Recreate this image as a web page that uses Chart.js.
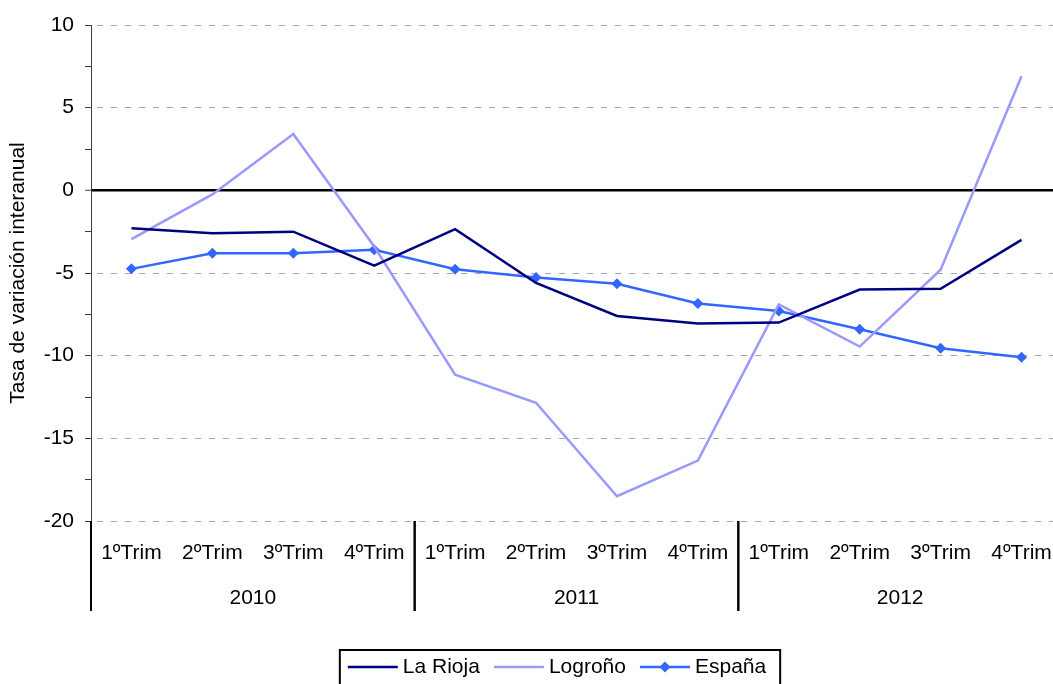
<!DOCTYPE html>
<html>
<head>
<meta charset="utf-8">
<script src="https://cdn.jsdelivr.net/npm/chart.js@4/dist/chart.umd.min.js"></script>
<style>
  html, body { margin: 0; padding: 0; background: #fff; overflow: hidden; }
  #wrap { width: 1120px; height: 684px; position: relative; }
</style>
</head>
<body>
<div id="wrap"><canvas id="chart"></canvas></div>
<script>
const quarters = ["1ºTrim", "2ºTrim", "3ºTrim", "4ºTrim",
                  "1ºTrim", "2ºTrim", "3ºTrim", "4ºTrim",
                  "1ºTrim", "2ºTrim", "3ºTrim", "4ºTrim"];
const years = ["2010", "2011", "2012"];
const laRioja = [-2.3, -2.6, -2.5, -4.55, -2.35, -5.6, -7.6, -8.05, -8.0, -6.0, -5.95, -3.0];
const logrono = [-2.95, -0.25, 3.4, -3.4, -11.15, -12.85, -18.5, -16.35, -6.9, -9.45, -4.8, 6.9];
const espana = [-4.75, -3.8, -3.8, -3.6, -4.77, -5.27, -5.65, -6.85, -7.3, -8.4, -9.55, -10.1];

const FONT = '"Liberation Sans", Arial, Helvetica, sans-serif';
const FS = 21;
const W = 1120;

// year labels and group separators under the category axis
const yearAxis = {
  id: "yearAxis",
  afterDraw(chart) {
    const ctx = chart.ctx;
    const x = chart.scales.x;
    const bottom = chart.chartArea.bottom;
    const half = (x.getPixelForTick(1) - x.getPixelForTick(0)) / 2;
    ctx.save();
    ctx.strokeStyle = "#000";
    ctx.lineWidth = 2;
    ctx.fillStyle = "#000";
    ctx.font = FS + "px " + FONT;
    ctx.textAlign = "center";
    ctx.textBaseline = "middle";
    years.forEach((y, g) => {
      const a = x.getPixelForTick(g * 4) - half;
      const b = x.getPixelForTick(g * 4 + 3) + half;
      ctx.beginPath();
      ctx.moveTo(a, bottom);
      ctx.lineTo(a, bottom + 90);
      ctx.moveTo(b, bottom);
      ctx.lineTo(b, bottom + 90);
      ctx.stroke();
      ctx.fillText(y, (a + b) / 2, bottom + 77);
    });
    ctx.restore();
  }
};

// boxed legend with line samples
const boxLegend = {
  id: "boxLegend",
  afterDraw(chart) {
    const ctx = chart.ctx;
    const sets = chart.data.datasets;
    ctx.save();
    ctx.font = FS + "px " + FONT;
    const widths = sets.map(d => ctx.measureText(d.label).width);
    let w = 8;
    widths.forEach(tw => { w += 50 + 5 + tw + 14; });
    const left = 560 - w / 2;
    const top = 650;
    const cy = 667;
    ctx.strokeStyle = "#000";
    ctx.lineWidth = 2;
    ctx.strokeRect(left, top, w, 44);
    let cx = left + 8;
    sets.forEach((d, i) => {
      ctx.strokeStyle = d.borderColor;
      ctx.lineWidth = 2.5;
      ctx.beginPath();
      ctx.moveTo(cx, cy);
      ctx.lineTo(cx + 50, cy);
      ctx.stroke();
      if (d.pointRadius > 0) {
        ctx.fillStyle = d.borderColor;
        ctx.beginPath();
        ctx.moveTo(cx + 19.5, cy);
        ctx.lineTo(cx + 25, cy - 5.5);
        ctx.lineTo(cx + 30.5, cy);
        ctx.lineTo(cx + 25, cy + 5.5);
        ctx.closePath();
        ctx.fill();
      }
      ctx.fillStyle = "#000";
      ctx.textAlign = "left";
      ctx.textBaseline = "middle";
      ctx.fillText(d.label, cx + 55, cy);
      cx += 50 + 5 + widths[i] + 14;
    });
    ctx.restore();
  }
};

new Chart(document.getElementById("chart"), {
  type: "line",
  data: {
    labels: quarters,
    datasets: [
      { label: "La Rioja", data: laRioja, borderColor: "#000080", backgroundColor: "#000080",
        borderWidth: 2.5, pointRadius: 0, tension: 0 },
      { label: "Logroño", data: logrono, borderColor: "#9999FF", backgroundColor: "#9999FF",
        borderWidth: 2.5, pointRadius: 0, tension: 0 },
      { label: "España", data: espana, borderColor: "#3366FF", backgroundColor: "#3366FF",
        borderWidth: 2.5, pointRadius: 5.5, pointStyle: "rectRot", pointBorderWidth: 0, tension: 0 }
    ]
  },
  options: {
    responsive: true,
    maintainAspectRatio: false,
    animation: false,
    layout: { padding: { top: 25, right: W - 1062, left: 0, bottom: 0 } },
    plugins: { legend: { display: false }, tooltip: { enabled: false } },
    scales: {
      x: {
        offset: true,
        grid: { display: false, drawTicks: false },
        border: { display: false },
        ticks: { color: "#000", font: { family: FONT, size: FS }, padding: 20,
                 maxRotation: 0, autoSkip: false },
        afterFit(scale) { scale.height = 163; }
      },
      y: {
        min: -20,
        max: 10,
        ticks: {
          stepSize: 2.5,
          color: "#000",
          font: { family: FONT, size: FS },
          padding: 11,
          callback: v => (v % 5 === 0 ? v : "")
        },
        grid: {
          tickLength: 6,
          tickColor: "#404040",
          tickWidth: 1,
          tickBorderDash: [],
          color: c => {
            const v = c.tick ? c.tick.value : null;
            if (v === 0) return "#000";
            if (v !== null && v % 5 === 0) return "#a6a6a6";
            return "rgba(0,0,0,0)";
          },
          lineWidth: c => (c.tick && c.tick.value === 0 ? 2.5 : 1)
        },
        border: {
          color: "#404040",
          width: 1,
          dash: c => (c.tick && c.tick.value === 0 ? [] : [6, 8]),
          dashOffset: -5
        },
        title: {
          display: true,
          text: "Tasa de variación interanual",
          color: "#000",
          font: { family: FONT, size: FS },
          padding: { top: 6, bottom: 0 }
        },
        afterFit(scale) { scale.width = 91; }
      }
    }
  },
  plugins: [yearAxis, boxLegend]
});
</script>
</body>
</html>
